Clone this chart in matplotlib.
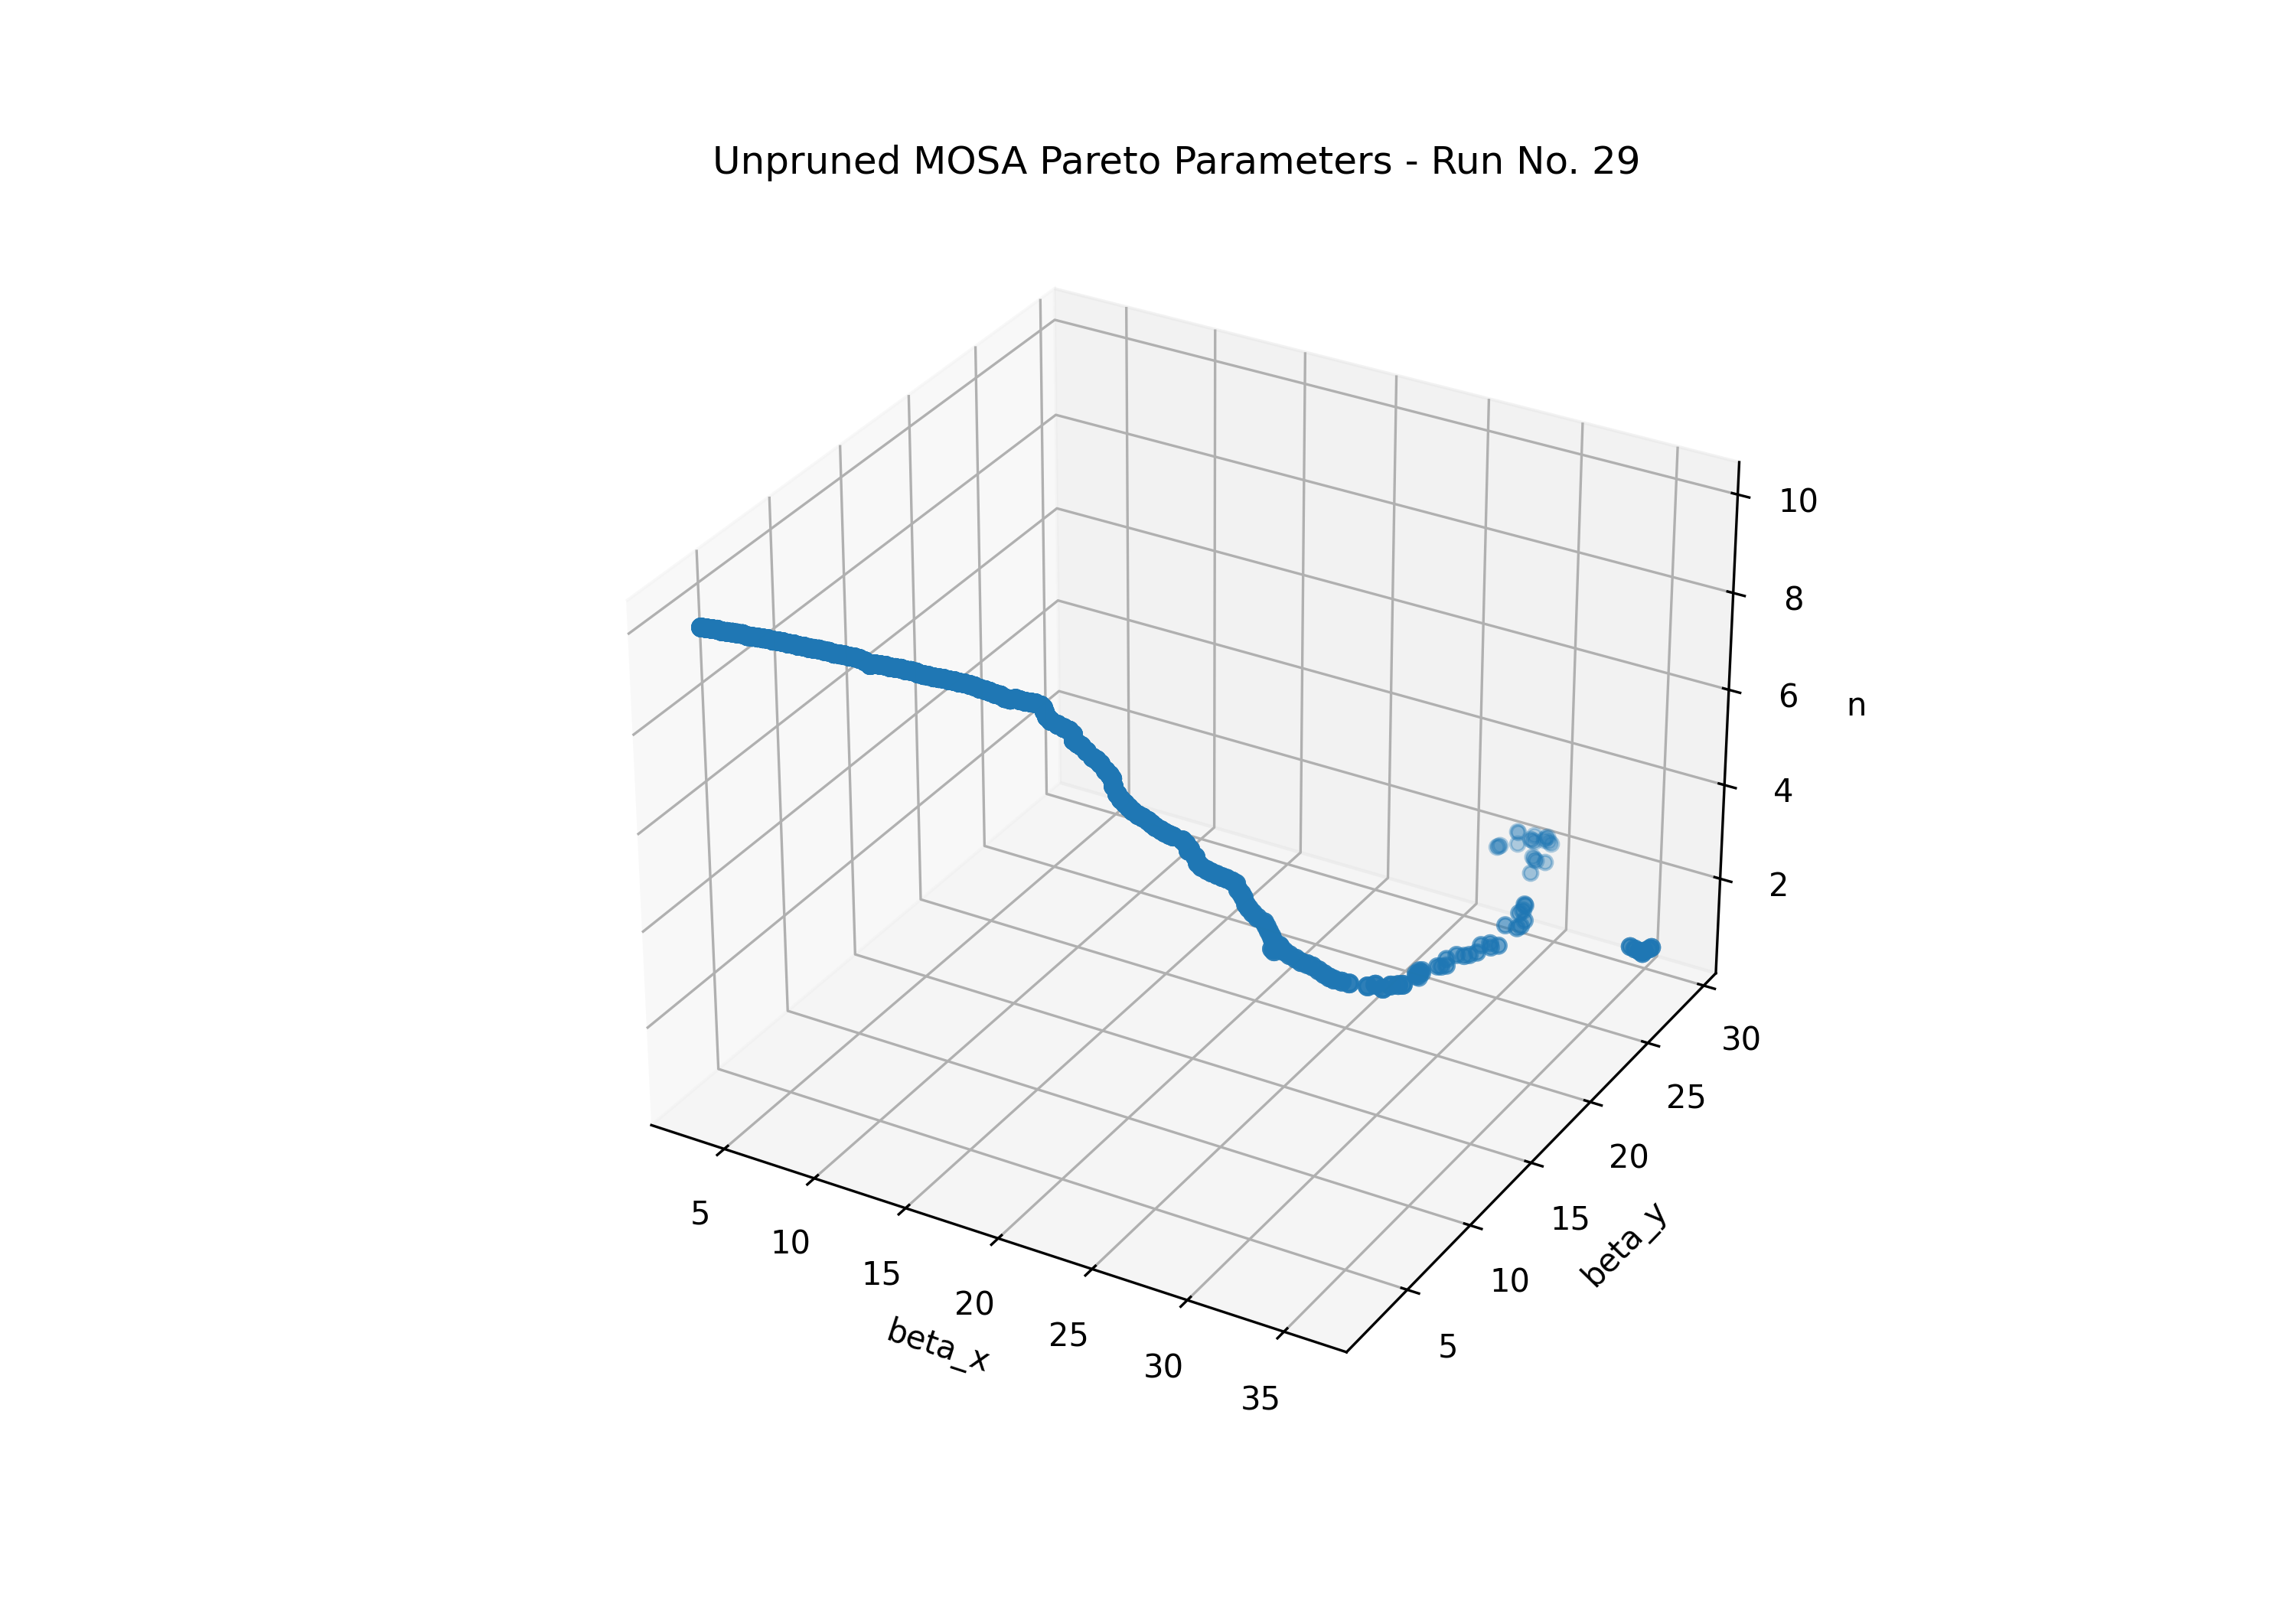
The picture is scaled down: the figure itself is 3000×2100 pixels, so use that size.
import numpy as np
import matplotlib
matplotlib.use('Agg')
import matplotlib.pyplot as plt

# values, in curve order
beta_x = [3.40, 3.60, 3.79, 3.98, 4.18, 4.38, 4.57, 4.73, 4.93, 5.16, 5.32, 5.52, 5.71, 5.87, 6.11, 6.30, 6.47, 6.70, 6.89, 7.10,
          7.29, 7.52, 7.69, 7.88, 8.12, 8.28, 8.51, 8.71, 8.87, 9.11, 9.30, 9.50, 9.78, 10.13, 10.21, 10.41,
          10.60, 10.81, 11.00, 11.20, 11.40, 11.60, 11.83, 11.90, 12.14, 12.30, 12.54, 12.73, 12.90, 13.13, 13.33, 13.53, 13.73, 13.96, 14.16, 14.44,
          14.67, 14.87, 15.14, 15.38, 15.62, 15.85, 15.97, 16.17, 16.41, 16.60, 16.77, 17.04, 17.19, 17.19, 17.25, 17.29,
          17.46, 17.56, 17.63, 17.68, 17.71, 17.73, 17.70, 17.89, 18.14, 18.12, 18.17, 18.43, 18.52, 18.52, 18.66, 18.89, 19.02, 19.08, 19.14,
          19.20, 19.32, 19.33, 19.46, 19.48, 19.51, 19.60, 19.59, 19.61, 19.57, 19.86, 19.92, 20.07, 19.80, 20.10, 20.22, 20.28,
          20.38, 20.41, 20.48, 20.54, 20.54, 20.64, 20.65, 20.76, 20.81, 20.82, 20.98, 21.02, 21.13, 21.28, 21.52, 21.57, 21.62, 21.68, 21.66, 21.95,
          21.80, 21.92, 21.89, 21.93, 22.21, 22.55, 22.93, 23.24, 23.54, 23.82, 24.19, 24.54, 24.84, 25.09, 25.45, 25.79,
          26.63, 26.84, 27.27, 27.41, 27.64, 27.78, 27.82, 28.11, 27.88, 28.24, 28.08, 28.10, 28.17, 28.63, 28.82, 29.04, 28.77, 29.05, 29.43, 29.65,
          29.90, 29.76, 30.10, 30.33, 30.61, 30.03, 30.68, 30.77, 30.73, 30.20, 30.29, 30.18, 30.15]
beta_y = [2.11, 2.22, 2.34, 2.46, 2.51, 2.63, 2.75, 2.85, 2.97, 3.03, 3.14, 3.26, 3.37, 3.48, 3.54, 3.66, 3.76, 3.83, 3.95, 4.00,
          4.12, 4.19, 4.29, 4.41, 4.48, 4.58, 4.65, 4.77, 4.87, 4.94, 5.05, 5.11, 5.12, 5.04, 5.25, 5.36,
          5.48, 5.53, 5.65, 5.77, 5.82, 5.94, 6.01, 6.07, 6.14, 6.24, 6.31, 6.42, 6.53, 6.60, 6.71, 6.77, 6.88, 6.95, 7.01, 7.02,
          7.09, 7.14, 7.16, 7.23, 7.23, 7.30, 7.52, 7.57, 7.64, 7.76, 7.86, 7.88, 7.84, 7.94, 8.03, 8.24,
          8.51, 8.81, 9.10, 9.31, 9.31, 9.57, 9.88, 10.01, 10.11, 10.42, 10.63, 10.66, 10.82, 11.00, 10.91, 10.86, 10.96, 11.17, 11.37,
          11.58, 11.81, 12.13, 12.36, 12.61, 12.86, 13.14, 13.44, 13.76, 14.11, 14.42, 14.62, 14.58, 15.09, 15.07, 15.08, 15.28,
          15.56, 15.87, 16.20, 16.53, 16.89, 17.17, 17.47, 17.48, 17.66, 17.82, 17.79, 17.96, 18.11, 18.27, 18.47, 18.58, 18.69, 18.80, 18.95, 18.77,
          18.69, 19.12, 18.73, 19.18, 19.08, 19.00, 18.95, 18.92, 18.97, 18.99, 18.94, 18.86, 18.84, 18.85, 18.93, 19.05,
          19.28, 19.61, 19.58, 20.01, 20.28, 20.45, 21.46, 21.54, 21.63, 21.08, 21.07, 21.55, 21.19, 22.01, 22.04, 22.15, 22.56, 22.97, 23.02, 23.13,
          23.38, 23.93, 24.17, 23.87, 24.08, 25.57, 25.54, 25.73, 26.12, 26.49, 26.67, 27.04, 27.03]
n = [10.00, 9.98, 9.96, 9.94, 9.92, 9.90, 9.88, 9.86, 9.84, 9.81, 9.79, 9.77, 9.75, 9.73, 9.71, 9.69, 9.67, 9.65, 9.63, 9.61,
     9.59, 9.57, 9.55, 9.53, 9.51, 9.49, 9.46, 9.44, 9.42, 9.40, 9.38, 9.36, 9.34, 9.32, 9.30, 9.28,
     9.26, 9.24, 9.22, 9.20, 9.18, 9.16, 9.14, 9.11, 9.09, 9.07, 9.05, 9.03, 9.01, 8.99, 8.97, 8.95, 8.93, 8.91, 8.89, 8.87,
     8.85, 8.83, 8.81, 8.79, 8.76, 8.74, 8.72, 8.70, 8.68, 8.66, 8.64, 8.62, 8.60, 8.50, 8.38, 8.26,
     8.14, 8.02, 7.91, 7.79, 7.67, 7.55, 7.43, 7.31, 7.19, 7.07, 6.95, 6.83, 6.72, 6.60, 6.48, 6.36, 6.24, 6.12, 6.00,
     5.88, 5.76, 5.64, 5.53, 5.41, 5.29, 5.17, 5.05, 4.93, 4.81, 4.69, 4.57, 4.46, 4.34, 4.22, 4.10, 3.98,
     3.86, 3.74, 3.62, 3.50, 3.38, 3.27, 3.15, 3.03, 2.91, 2.79, 2.67, 2.55, 2.43, 2.31, 2.19, 2.08, 1.96, 1.84, 1.72, 1.60,
     1.60, 1.58, 1.55, 1.53, 1.50, 1.48, 1.46, 1.43, 1.41, 1.39, 1.36, 1.34, 1.31, 1.29, 1.27, 1.24,
     1.22, 1.20, 1.17, 1.15, 1.12, 1.10, 1.10, 1.12, 1.13, 1.15, 1.16, 1.18, 1.19, 1.21, 1.22, 1.24, 1.25, 1.27, 1.28, 1.30,
     1.32, 1.33, 1.35, 1.36, 1.38, 1.39, 1.41, 1.42, 1.44, 1.45, 1.47, 1.48, 1.50]
# loose cluster at the back
back_x = [28.29, 28.32, 28.26, 28.44, 28.51, 28.99, 29.32, 29.43, 29.33, 29.59, 29.91, 29.94, 29.94, 30.40, 30.20, 30.37, 30.20, 30.50, 30.95, 30.81]
back_y = [27.62, 27.71, 27.54, 29.03, 28.99, 28.17, 29.10, 28.73, 28.75, 28.66, 29.16, 28.97, 29.25, 28.84, 28.96, 27.43, 27.56, 27.36, 27.43, 26.40]
back_n = [2.40] * 20
# tight cluster at the right
right_x = [35.23, 35.52, 35.81, 36.00, 36.13, 36.16, 36.03]
right_y = [28.17, 28.10, 28.04, 28.13, 28.39, 28.54, 27.94]
right_n = [0.90] * 7

# how many pareto points pile up on each read position
main_copies = [4] * 150 + [2] * (len(beta_x) - 150)
right_copies = 4

xs = np.concatenate([np.repeat(beta_x, main_copies), back_x, np.repeat(right_x, right_copies)])
ys = np.concatenate([np.repeat(beta_y, main_copies), back_y, np.repeat(right_y, right_copies)])
zs = np.concatenate([np.repeat(n, main_copies), back_n, np.repeat(right_n, right_copies)])
# the main curve is a bit fatter than one marker, its points spread sideways
sizes = np.concatenate([np.repeat([27] * 150 + [22] * (len(beta_x) - 150), main_copies),
                        [20] * len(back_x), [24] * (len(right_x) * right_copies)])

fig = plt.figure(figsize=(10, 7), dpi=300)
ax = fig.add_subplot(projection='3d')
ax.scatter(xs, ys, zs, s=sizes)
ax.set_xlim(0.9, 38.2, view_margin=0)
ax.set_ylim(0.3, 31.1, view_margin=0)
ax.set_zlim(-0.05, 10.65, view_margin=0)
ax.set_zticks([2, 4, 6, 8, 10])
ax.set_xlabel('beta_x')
ax.set_ylabel('beta_y')
ax.set_zlabel('n')
ax.set_title('Unpruned MOSA Pareto Parameters - Run No. 29')
fig.savefig('out.png')
